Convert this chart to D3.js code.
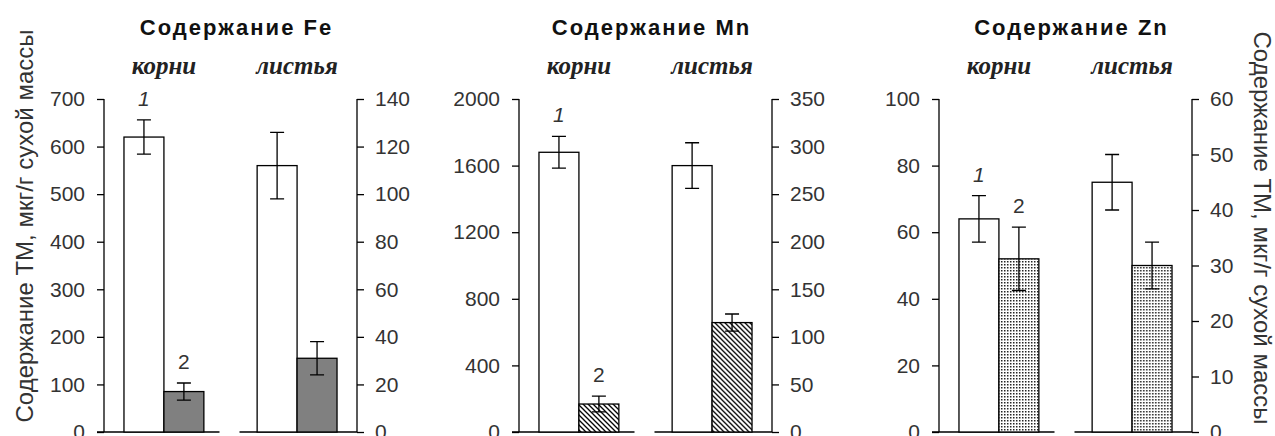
<!DOCTYPE html>
<html>
<head>
<meta charset="utf-8">
<script src="https://cdn.jsdelivr.net/npm/d3@7"></script>
<style>
  body { margin: 0; background: #fff; }
  svg { display: block; }
  .tick text { font-family: "Liberation Sans", Arial, sans-serif; font-size: 21px; fill: #333; }
  .tick line, .domain { stroke: #000; stroke-width: 1.3px; }
</style>
</head>
<body>
<div id="root"></div>
<script>
// Data
const groups = ['корни', 'листья'];
const series = ['1', '2'];
const elements = ['Fe', 'Mn', 'Zn'];

const feRoots = [620, 85];
const feRootsErr = [36, 18];
const feLeaves = [112, 31];
const feLeavesErr = [14, 7];
const feLeftTicks = [0, 100, 200, 300, 400, 500, 600, 700];
const feRightTicks = [0, 20, 40, 60, 80, 100, 120, 140];

const mnRoots = [1680, 168];
const mnRootsErr = [95, 47];
const mnLeaves = [280, 115];
const mnLeavesErr = [24, 9];
const mnLeftTicks = [0, 400, 800, 1200, 1600, 2000];
const mnRightTicks = [0, 50, 100, 150, 200, 250, 300, 350];

const znRoots = [64, 52];
const znRootsErr = [7, 9.5];
const znLeaves = [45, 30];
const znLeavesErr = [5, 4.2];
const znLeftTicks = [0, 20, 40, 60, 80, 100];
const znRightTicks = [0, 10, 20, 30, 40, 50, 60];

const axisTitle = 'Содержание ТМ, мкг/г сухой массы';

// Layout
const width = 1275;
const height = 436;
const panelLeft = [104, 519, 939];
const panelWidth = 253;
const yBottom = 432;
const yTop = 99;

const panels = [
  {name: 'Fe', roots: feRoots, rootsErr: feRootsErr, leaves: feLeaves, leavesErr: feLeavesErr,
    left: feLeftTicks, right: feRightTicks, fill: '#808080'},
  {name: 'Mn', roots: mnRoots, rootsErr: mnRootsErr, leaves: mnLeaves, leavesErr: mnLeavesErr,
    left: mnLeftTicks, right: mnRightTicks, fill: 'url(#hatch)'},
  {name: 'Zn', roots: znRoots, rootsErr: znRootsErr, leaves: znLeaves, leavesErr: znLeavesErr,
    left: znLeftTicks, right: znRightTicks, fill: 'url(#dots)'}
];

const svg = d3.select('#root')
  .append('svg')
  .attr('width', width)
  .attr('height', height);

// Fill patterns
const defs = svg.append('defs');
defs.append('pattern')
  .attr('id', 'hatch')
  .attr('patternUnits', 'userSpaceOnUse')
  .attr('width', 5)
  .attr('height', 5)
  .call(p => {
    p.append('rect').attr('width', 5).attr('height', 5).attr('fill', '#fff');
    p.append('path')
      .attr('d', 'M-1,-1 L6,6 M-1,4 L1,6 M4,-1 L6,1')
      .attr('stroke', '#000')
      .attr('stroke-width', 1.3);
  });

defs.append('pattern')
  .attr('id', 'dots')
  .attr('patternUnits', 'userSpaceOnUse')
  .attr('width', 3)
  .attr('height', 3)
  .call(p => {
    p.append('rect').attr('width', 3).attr('height', 3).attr('fill', '#fff');
    p.append('rect').attr('width', 1.5).attr('height', 1.5).attr('fill', '#222');
  });

const y = d3.scaleLinear().range([yBottom, yTop]);
const fmt = d3.format('d');

const xGroup = d3.scaleBand()
  .domain(groups)
  .range([0, panelWidth])
  .paddingInner(0.4)
  .paddingOuter(0.15);

const xBar = d3.scaleBand()
  .domain(series)
  .range([0, xGroup.bandwidth()]);

panels.forEach((panel, i) => {
  const g = svg.append('g')
    .attr('transform', `translate(${panelLeft[i]},0)`);

  const yLeft = y.copy().domain([0, d3.max(panel.left)]);
  const yRight = y.copy().domain([0, d3.max(panel.right)]);

  // Axes
  g.append('g')
    .call(d3.axisLeft(yLeft).tickValues(panel.left).tickFormat(fmt)
      .tickSize(7).tickSizeOuter(0).tickPadding(12))
    .call(a => a.select('.domain').attr('d', `M0,${yTop}V${yBottom}`));

  g.append('g')
    .attr('transform', `translate(${panelWidth},0)`)
    .call(d3.axisRight(yRight).tickValues(panel.right).tickFormat(fmt)
      .tickSize(7).tickSizeOuter(0).tickPadding(11))
    .call(a => a.select('.domain').attr('d', `M0,${yTop}V${yBottom}`));

  // Broken baseline
  const mid = panelWidth / 2;
  g.append('path')
    .attr('d', `M-7,${yBottom}H${mid - 11}M${mid + 9},${yBottom}H${panelWidth}`)
    .attr('stroke', '#000')
    .attr('stroke-width', 1.3);

  // Bars
  const rows = [
    {group: groups[0], values: panel.roots, errs: panel.rootsErr, scale: yLeft},
    {group: groups[1], values: panel.leaves, errs: panel.leavesErr, scale: yRight}
  ];

  rows.forEach((row, r) => {
    const bars = g.append('g')
      .attr('transform', `translate(${xGroup(row.group)},0)`)
      .selectAll('g')
      .data(series.map((s, k) => ({s, v: row.values[k], e: row.errs[k]})))
      .join('g');

    bars.append('rect')
      .attr('x', d => xBar(d.s))
      .attr('y', d => row.scale(d.v))
      .attr('width', xBar.bandwidth())
      .attr('height', d => yBottom - row.scale(d.v))
      .attr('fill', d => d.s === '1' ? '#fff' : panel.fill)
      .attr('stroke', '#000')
      .attr('stroke-width', 1.3);

    const cx = d => xBar(d.s) + xBar.bandwidth() / 2;
    bars.append('path')
      .attr('d', d => {
        const x = cx(d);
        const t = row.scale(d.v + d.e);
        const b = row.scale(d.v - d.e);
        return `M${x},${t}V${b}M${x - 7},${t}H${x + 7}M${x - 7},${b}H${x + 7}`;
      })
      .attr('fill', 'none')
      .attr('stroke', '#000')
      .attr('stroke-width', 1.3);

    // Series numbers above the root bars
    if (r === 0) {
      bars.append('text')
        .attr('x', cx)
        .attr('y', d => row.scale(d.v + d.e) - 14)
        .attr('text-anchor', 'middle')
        .style('font-family', '"Liberation Sans", Arial, sans-serif')
        .style('font-size', '21px')
        .style('font-style', d => d.s === '1' ? 'italic' : 'normal')
        .attr('fill', '#333')
        .text(d => d.s);
    }

    // Group label
    g.append('text')
      .attr('x', xGroup(row.group) + xGroup.bandwidth() / 2)
      .attr('y', 74)
      .attr('text-anchor', 'middle')
      .style('font-family', '"Liberation Serif", "Times New Roman", serif')
      .style('font-size', '25px')
      .style('font-weight', 'bold')
      .style('font-style', 'italic')
      .attr('fill', '#222')
      .text(row.group);
  });

  // Title
  g.append('text')
    .attr('x', panelWidth / 2 + 6)
    .attr('y', 35)
    .attr('text-anchor', 'middle')
    .style('font-family', '"Liberation Sans", Arial, sans-serif')
    .style('font-size', '22px')
    .style('font-weight', 'bold')
    .style('letter-spacing', '2px')
    .attr('fill', '#111')
    .text('Содержание ' + elements[i]);
});

// Axis titles
svg.append('text')
  .attr('transform', 'translate(33,226) rotate(-90)')
  .attr('text-anchor', 'middle')
  .style('font-family', '"Liberation Sans", Arial, sans-serif')
  .style('font-size', '24px')
  .attr('fill', '#333')
  .text(axisTitle);

svg.append('text')
  .attr('transform', 'translate(1254,228) rotate(90)')
  .attr('text-anchor', 'middle')
  .style('font-family', '"Liberation Sans", Arial, sans-serif')
  .style('font-size', '24px')
  .attr('fill', '#333')
  .text(axisTitle);
</script>
</body>
</html>
